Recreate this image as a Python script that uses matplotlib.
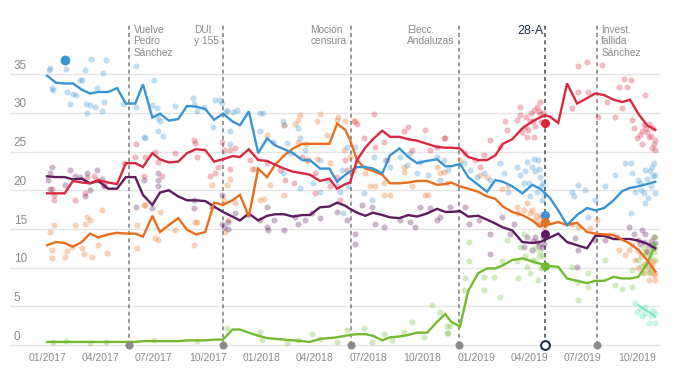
import matplotlib
matplotlib.use("Agg")
import matplotlib.pyplot as plt
import matplotlib.transforms as mtransforms
import pandas as pd

plt.rcParams["font.family"] = ["Liberation Sans", "DejaVu Sans"]

# fortnightly polling average
line_dates = [
    "2017-01-01", "2017-01-16", "2017-01-31", "2017-02-14", "2017-03-01", "2017-03-15",
    "2017-03-29", "2017-04-15", "2017-04-30", "2017-05-15", "2017-05-31", "2017-06-13",
    "2017-06-29", "2017-07-12", "2017-07-27", "2017-08-12", "2017-08-27", "2017-09-11",
    "2017-09-27", "2017-10-12", "2017-10-27", "2017-11-12", "2017-11-25", "2017-12-10",
    "2017-12-26", "2018-01-10", "2018-01-24", "2018-02-08", "2018-02-23", "2018-03-11",
    "2018-03-24", "2018-04-10", "2018-04-26", "2018-05-09", "2018-05-23", "2018-05-31",
    "2018-06-12", "2018-06-26", "2018-07-09", "2018-07-25", "2018-08-07", "2018-08-23",
    "2018-09-07", "2018-09-22", "2018-10-09", "2018-10-26", "2018-11-09", "2018-11-19",
    "2018-12-04", "2018-12-18", "2019-01-04", "2019-01-19", "2019-02-02", "2019-02-15",
    "2019-03-03", "2019-03-20", "2019-04-06", "2019-04-19", "2019-04-28", "2019-05-06",
    "2019-05-20", "2019-06-04", "2019-06-21", "2019-07-08", "2019-07-22", "2019-08-06",
    "2019-08-22", "2019-09-06", "2019-09-19", "2019-10-03", "2019-10-18", "2019-11-01",
]
pp = [34.8, 33.9, 33.8, 33.8, 33.0, 32.5, 32.7, 32.7, 33.2, 31.2,
      31.2, 33.7, 29.4, 29.9, 29.0, 29.2, 30.9, 30.8, 30.5, 29.1,
      29.9, 28.9, 28.4, 30.2, 24.8, 26.7, 25.8, 25.3, 24.8, 23.9,
      23.9, 22.8, 22.8, 21.1, 22.0, 22.4, 23.0, 23.0, 22.8, 22.2,
      24.5, 25.4, 24.3, 23.5, 23.8, 24.0, 23.1, 23.1, 23.4, 21.7,
      20.7, 19.8, 21.3, 21.1, 20.5, 19.6, 20.7, 20.2, 19.6, 19.0,
      17.4, 15.5, 16.8, 17.7, 17.4, 17.7, 18.7, 19.9, 20.3, 20.5, 20.8, 21.1]
psoe = [19.6, 19.6, 19.6, 21.2, 21.0, 20.9, 21.3, 21.0, 20.8, 23.5,
        23.5, 23.0, 24.8, 24.0, 23.6, 23.7, 24.8, 25.3, 25.2, 23.7,
        24.0, 24.4, 24.3, 25.3, 23.9, 23.8, 23.3, 22.8, 22.4, 22.2,
        22.0, 21.2, 21.5, 20.2, 20.8, 21.0, 23.9, 25.5, 26.6, 27.7,
        26.9, 26.9, 26.6, 26.4, 26.0, 25.6, 25.5, 25.5, 25.4, 24.3,
        23.9, 23.9, 24.5, 26.0, 26.6, 28.0, 28.9, 29.4, 29.7, 29.5,
        28.7, 33.8, 31.2, 31.9, 32.5, 32.3, 31.7, 31.4, 31.7, 29.9, 28.4, 27.8]
cs = [12.9, 13.3, 13.2, 12.7, 13.3, 14.4, 13.9, 14.3, 14.5, 14.4,
      14.4, 14.0, 16.7, 14.6, 15.5, 16.4, 14.9, 14.3, 14.6, 18.4,
      18.1, 18.7, 19.4, 16.6, 22.8, 21.7, 23.3, 24.5, 25.4, 26.0,
      26.0, 26.0, 26.0, 28.6, 27.8, 26.5, 23.9, 22.8, 22.5, 22.0,
      20.9, 20.9, 21.0, 21.2, 21.2, 20.7, 20.8, 21.0, 20.5, 20.2,
      19.8, 19.2, 18.9, 17.9, 17.2, 16.8, 16.1, 15.3, 15.7, 15.6,
      15.9, 15.5, 15.8, 14.6, 14.4, 14.3, 14.2, 13.6, 13.1, 12.3, 11.0, 9.5]
up = [21.8, 21.7, 21.7, 21.4, 21.5, 20.9, 21.2, 20.2, 20.2, 21.7,
      21.7, 19.4, 18.1, 19.7, 20.0, 19.2, 18.7, 18.7, 18.6, 17.9,
      17.2, 16.6, 16.1, 17.0, 16.1, 16.7, 16.9, 16.9, 16.6, 16.8,
      16.8, 17.8, 17.9, 18.4, 18.0, 17.6, 17.1, 16.7, 17.1, 16.8,
      16.5, 16.4, 16.8, 16.6, 17.0, 17.6, 17.2, 17.2, 17.3, 16.6,
      16.7, 16.2, 15.7, 15.2, 14.8, 13.3, 13.2, 13.3, 13.6, 13.9,
      14.4, 13.3, 12.9, 12.5, 14.1, 14.1, 13.7, 13.7, 13.7, 13.5, 13.1, 12.5]
vox = [0.4, 0.4, 0.4, 0.4, 0.4, 0.4, 0.4, 0.4, 0.4, 0.4,
       0.4, 0.5, 0.5, 0.5, 0.5, 0.5, 0.6, 0.6, 0.6, 0.7,
       0.7, 2.0, 2.0, 1.6, 1.2, 0.9, 0.8, 0.7, 0.6, 0.5,
       0.4, 0.8, 0.9, 1.0, 1.2, 1.3, 1.4, 1.4, 1.2, 0.6,
       1.0, 1.1, 1.3, 1.6, 1.6, 3.0, 4.0, 3.0, 2.4, 7.0,
       9.3, 9.9, 9.9, 10.3, 11.0, 11.2, 10.8, 10.5, 10.3, 10.2,
       10.1, 8.6, 8.3, 8.0, 8.3, 8.3, 8.8, 8.6, 8.6, 8.8, 10.5, 13.0]
mp_dates = ["2019-10-03", "2019-10-13", "2019-10-23", "2019-11-01"]
mp = [5.2, 4.6, 4.2, 3.6]

# individual polls: (days since 2017-01-01, %)
pp_polls = [(4, 35.6), (5, 35.8), (9, 33.2), (10, 33.0), (32, 35.7), (34, 32.7), (39, 31.1), (44, 32.5),
            (49, 32.3), (56, 34.2), (60, 34.3), (65, 35.6), (66, 31.2), (68, 30.0), (73, 31.0), (75, 37.0),
            (82, 30.8), (85, 33.2), (94, 30.2), (95, 35.2), (96, 31.4), (100, 36.8), (129, 31.2), (151, 36.0),
            (151, 30.8), (165, 26.9), (178, 31.0), (182, 34.2), (187, 30.6), (189, 27.6), (189, 29.3),
            (192, 28.9), (197, 27.0), (167, 26.7), (218, 30.9), (248, 31.9), (249, 31.1), (255, 30.3),
            (267, 30.7), (282, 28.2), (286, 31.6), (294, 31.7), (297, 31.3), (304, 30.1), (306, 30.4),
            (311, 27.6), (311, 26.0), (316, 30.1), (323, 30.4), (362, 30.0), (367, 30.0), (362, 27.7),
            (384, 26.3), (401, 28.9), (402, 28.4), (427, 28.0), (430, 26.7), (408, 26.1), (401, 22.2),
            (413, 24.8), (439, 25.2), (464, 23.9), (464, 19.8), (476, 21.3), (430, 20.3), (493, 20.5),
            (501, 22.6), (498, 19.8), (452, 20.9), (510, 25.6), (524, 25.6), (527, 23.9), (512, 20.5),
            (503, 17.1), (538, 19.6), (552, 18.7), (555, 24.3), (575, 23.9), (583, 23.0), (612, 23.3),
            (617, 24.8), (634, 23.7), (648, 22.0), (663, 24.3), (668, 21.3), (600, 24.3), (629, 22.2),
            (674, 23.9), (682, 22.6), (708, 23.5), (719, 22.6), (731, 21.7), (742, 22.2), (753, 21.3),
            (770, 23.5), (776, 22.2), (784, 19.8), (799, 23.0), (804, 22.0), (816, 23.7), (827, 24.1),
            (835, 23.9), (838, 21.7), (833, 19.8), (841, 18.7), (821, 19.2), (810, 20.9), (892, 19.8),
            (903, 20.7), (895, 19.2), (915, 20.0), (932, 18.7), (920, 16.6), (949, 20.5), (966, 22.0),
            (983, 23.5), (992, 23.5), (994, 22.2), (1005, 21.3), (1017, 22.6), (1028, 23.0), (1034, 22.0),
            (1026, 20.5), (1017, 18.3), (1034, 19.6), (992, 17.0), (1000, 19.8), (1014, 19.6),
            (812, 22.5), (820, 21.0), (825, 23.0), (830, 22.5), (836, 22.8), (840, 20.5), (843, 21.0),
            (845, 19.5), (1008, 21.0), (1020, 21.5), (1025, 22.5), (1030, 21.8), (1032, 23.5),
            (1022, 19.0), (1010, 20.0)]
psoe_polls = [(8, 20.2), (11, 19.4), (11, 18.7), (48, 18.7), (65, 19.6), (68, 21.7), (79, 21.9), (85, 21.3),
              (96, 20.7), (130, 23.5), (151, 26.0), (150, 24.3), (164, 21.9), (167, 24.3), (184, 25.0),
              (189, 23.7), (195, 21.9), (218, 24.8), (249, 26.5), (252, 26.1), (255, 24.3), (277, 21.9),
              (286, 22.2), (297, 26.3), (300, 25.2), (311, 25.2), (320, 25.4), (311, 22.8), (291, 23.0),
              (345, 23.9), (351, 22.8), (374, 23.5), (396, 22.6), (405, 21.3), (433, 24.3), (444, 23.9),
              (456, 19.6), (456, 22.2), (481, 20.5), (493, 21.7), (498, 18.7), (419, 20.9), (521, 28.9),
              (527, 28.6), (555, 29.9), (538, 26.7), (558, 25.6), (572, 26.3), (606, 27.6), (614, 28.2),
              (620, 25.2), (643, 27.8), (651, 25.2), (663, 25.6), (674, 26.7), (578, 23.9), (510, 22.6),
              (507, 23.9), (677, 26.7), (711, 24.8), (728, 23.9), (742, 24.5), (753, 26.5), (770, 25.6),
              (779, 28.9), (782, 27.8), (799, 29.1), (804, 29.7), (813, 28.2), (821, 28.9), (827, 30.4),
              (833, 30.8), (838, 31.4), (838, 29.9), (816, 26.9), (827, 26.9), (804, 30.8), (736, 23.0),
              (903, 36.0), (918, 36.6), (943, 36.2), (892, 30.6), (903, 32.7), (920, 32.7), (952, 31.4),
              (937, 29.5), (966, 29.5), (972, 33.4), (980, 34.4), (992, 34.2), (986, 33.4), (1017, 32.3),
              (977, 30.6), (994, 29.1), (997, 28.0), (1011, 27.6), (1003, 26.7), (1023, 26.9), (1034, 26.5),
              (1034, 25.2), (1023, 28.6), (1014, 28.4), (808, 27.5), (815, 29.5), (822, 30.0), (826, 29.0),
              (830, 28.3), (836, 30.2), (840, 28.8), (843, 30.0), (818, 27.8), (1008, 27.2), (1012, 26.0),
              (1020, 27.5), (1026, 27.0), (1030, 28.0), (1032, 26.0), (1029, 25.5), (1018, 28.0)]
cs_polls = [(5, 14.6), (11, 15.5), (8, 12.3), (8, 11.2), (31, 11.4), (34, 12.1), (48, 15.5), (42, 12.7),
            (65, 15.7), (68, 16.6), (73, 16.2), (76, 11.4), (59, 12.5), (62, 11.8), (93, 17.4), (87, 12.9),
            (102, 11.9), (153, 15.5), (153, 12.5), (164, 18.1), (167, 18.1), (184, 13.8), (189, 13.6),
            (192, 17.2), (218, 14.9), (252, 15.9), (255, 15.9), (249, 12.9), (280, 20.7), (306, 20.7),
            (311, 21.5), (300, 18.7), (308, 16.1), (303, 14.6), (320, 18.3), (348, 22.8), (362, 18.7),
            (368, 18.9), (374, 27.1), (379, 20.7), (402, 28.4), (422, 28.6), (427, 29.1), (430, 29.7),
            (464, 29.9), (459, 28.9), (495, 29.5), (493, 29.1), (402, 19.4), (427, 26.3), (441, 23.9),
            (459, 24.1), (481, 23.5), (476, 27.1), (441, 26.0), (504, 25.2), (507, 28.9), (524, 28.9),
            (515, 24.3), (521, 22.6), (541, 22.2), (549, 20.5), (558, 20.5), (572, 20.9), (572, 19.4),
            (606, 23.0), (606, 22.4), (620, 20.5), (643, 19.4), (648, 19.4), (663, 23.0), (668, 22.2),
            (583, 19.4), (674, 22.4), (680, 20.9), (702, 23.9), (736, 22.0), (748, 21.7), (773, 20.2),
            (784, 20.5), (799, 17.9), (801, 17.0), (816, 18.3), (821, 17.0), (830, 16.1), (835, 15.7),
            (838, 16.4), (844, 15.3), (810, 17.4), (892, 15.7), (903, 15.3), (923, 15.1), (935, 16.1),
            (955, 14.2), (972, 12.3), (983, 11.6), (989, 12.3), (1000, 11.0), (1005, 9.9), (1014, 9.3),
            (1023, 11.0), (1028, 10.3), (1034, 9.3), (1034, 8.4), (1023, 8.4), (1005, 12.1), (994, 12.9),
            (825, 17.5), (832, 16.8), (840, 16.8), (842, 15.8), (1010, 11.5), (1020, 10.0), (1025, 9.5),
            (1030, 10.8), (1032, 9.0), (1015, 10.5), (1018, 12.0)]
up_polls = [(8, 23.0), (5, 22.2), (2, 21.3), (5, 20.2), (31, 20.7), (39, 22.6), (48, 21.9), (56, 21.7),
            (68, 22.2), (65, 19.2), (73, 20.0), (93, 21.5), (96, 20.5), (85, 22.6), (151, 17.9), (164, 21.3),
            (189, 21.3), (189, 20.5), (178, 17.7), (189, 22.2), (249, 17.7), (249, 18.7), (280, 17.9),
            (297, 15.7), (300, 15.3), (308, 15.9), (308, 15.0), (320, 17.0), (297, 19.4), (342, 16.8),
            (374, 17.9), (374, 15.3), (376, 14.9), (362, 16.1), (402, 14.9), (422, 16.6), (427, 15.7),
            (439, 16.1), (450, 17.0), (464, 16.4), (493, 17.2), (385, 16.1), (510, 16.1), (524, 14.4),
            (524, 13.1), (535, 18.1), (552, 17.9), (558, 15.7), (572, 15.3), (600, 16.1), (617, 15.9),
            (626, 15.3), (634, 17.9), (651, 17.7), (663, 16.1), (668, 16.6), (685, 17.9), (711, 17.9),
            (717, 15.7), (734, 16.1), (753, 14.4), (773, 16.6), (793, 15.7), (810, 12.7), (816, 14.0),
            (824, 12.3), (833, 13.3), (841, 12.7), (753, 11.8), (787, 14.4), (898, 13.8), (903, 12.3),
            (932, 13.6), (949, 13.6), (969, 14.0), (989, 15.3), (997, 14.4), (1005, 13.6), (1017, 14.4),
            (1023, 12.9), (1031, 14.0), (901, 10.1), (826, 13.5), (830, 14.0), (836, 12.8), (843, 14.0),
            (845, 13.0), (1008, 13.0), (1015, 13.3), (1020, 12.2), (1026, 13.5), (1030, 12.5),
            (1034, 13.2), (1012, 14.8)]
vox_polls = [(10, 0.4), (32, 0.5), (73, 0.3), (100, 0.4), (182, 0.6), (255, 0.5), (306, 2.2), (362, 1.7),
             (365, 0.6), (408, 0.3), (427, 0.6), (450, 1.4), (464, 0.8), (493, 0.4), (510, 1.9), (538, 2.2),
             (552, 0.4), (572, 1.4), (586, 0.6), (606, 1.7), (620, 3.0), (640, 1.1), (654, 5.2), (668, 4.3),
             (680, 2.4), (680, 1.5), (711, 8.6), (708, 7.1), (717, 13.3), (717, 10.9), (742, 7.1), (759, 8.8),
             (770, 6.2), (773, 10.9), (782, 13.6), (799, 10.9), (801, 8.6), (804, 12.7), (816, 10.1),
             (821, 9.3), (830, 10.9), (835, 8.4), (838, 12.1), (810, 14.4), (742, 8.8), (685, 2.4), (682, 1.5),
             (901, 8.2), (903, 5.8), (920, 7.5), (949, 11.0), (966, 7.8), (977, 7.3), (994, 9.7), (994, 7.5),
             (1005, 11.0), (1017, 11.8), (1028, 12.7), (1034, 14.0), (1034, 11.0), (1023, 9.3), (1011, 9.3),
             (892, 10.1), (920, 9.3), (812, 11.5), (825, 11.0), (830, 12.5), (836, 11.5), (840, 10.0),
             (843, 11.5), (1010, 10.2), (1020, 10.5), (1025, 11.5), (1030, 13.0), (1032, 12.0),
             (1026, 9.8), (1034, 12.5), (1015, 12.5)]
mp_polls = [(1000, 5.4), (1008, 4.7), (1017, 4.1), (1026, 3.7), (1034, 2.8), (1023, 2.8), (1011, 3.7),
            (1028, 4.5), (1034, 4.1), (1003, 4.3), (1017, 4.9)]

# results of 28-A election
result_date = "2019-04-28"
results = {"pp": 16.8, "psoe": 28.7, "cs": 15.9, "up": 14.4, "vox": 10.2}
early_dot = ("2017-02-01", 36.8)

event_dates = ["2017-05-21", "2017-10-27", "2018-06-01", "2018-12-02", "2019-04-28", "2019-07-25"]
event_labels = ["Vuelve\nPedro\nSánchez", "DUI\ny 155", "Moción\ncensura",
                "Elecc.\nAndaluzas", "28-A", "Invest.\nfallida\nSánchez"]
event_side = ["right", "left", "left", "left", "left", "right"]

colors = {"pp": "#3a93d3", "psoe": "#d8283f", "cs": "#ea6d1e",
          "up": "#5e1b5f", "vox": "#72bb30", "mp": "#55e0ad"}

START = pd.Timestamp("2017-01-01")


def poll_xy(polls):
    return ([START + pd.Timedelta(days=d) for d, _ in polls], [v for _, v in polls])


fig = plt.figure(figsize=(6.8, 3.82), dpi=100)
fig.patch.set_facecolor("white")
ax = fig.add_axes([10 / 680, 30 / 382, 650 / 680, 332 / 382])
ax.set_xlim(pd.Timestamp("2016-10-30"), pd.Timestamp("2019-11-09"))
ax.set_ylim(-0.9, 42.0)
for s in ax.spines.values():
    s.set_visible(False)

# grid + y labels sitting on top of the lines
trans = mtransforms.blended_transform_factory(ax.transAxes, ax.transData)
for v in range(0, 40, 5):
    ax.axhline(v, color="#e5e5e5", lw=1, zorder=0)
    ax.text(0.006, v + 0.7, str(v), transform=trans, fontsize=8.5,
            color="#8a8a8a", va="baseline", ha="left")
ax.set_yticks([])

ticks = pd.date_range("2017-01-01", "2019-10-01", freq="QS")
ax.set_xticks(ticks)
ax.set_xticklabels([t.strftime("%m/%Y") for t in ticks], fontsize=7.5, color="#8a8a8a")
ax.tick_params(axis="x", length=0, pad=1)

# poll dots
for key, polls in [("pp", pp_polls), ("psoe", psoe_polls), ("cs", cs_polls),
                   ("up", up_polls), ("vox", vox_polls), ("mp", mp_polls)]:
    d, v = poll_xy(polls)
    ax.scatter(d, v, s=19, color=colors[key], alpha=0.32, lw=0, zorder=2)

# averages
ld = pd.to_datetime(line_dates)
for key, vals in [("vox", vox), ("up", up), ("cs", cs), ("pp", pp), ("psoe", psoe)]:
    ax.plot(ld, vals, color=colors[key], lw=1.7, zorder=3, solid_joinstyle="miter")
ax.plot(pd.to_datetime(mp_dates), mp, color=colors["mp"], lw=1.2, alpha=0.8, zorder=3)

# election results and early point
rd = pd.Timestamp(result_date)
for key, val in results.items():
    ax.scatter([rd], [val], s=42, color=colors[key], lw=0, zorder=4)
ax.scatter([pd.Timestamp(early_dot[0])], [early_dot[1]], s=50, color=colors["pp"], lw=0, zorder=4)

# events
top = 41.4
for date, lab, side in zip(event_dates, event_labels, event_side):
    dt = pd.Timestamp(date)
    main = lab == "28-A"
    lc = "#3d4a5a" if main else "#7a7a7a"
    ax.plot([dt, dt], [0, top], color=lc, lw=1.1, ls=(0, (2.6, 2.2)), zorder=1)
    if main:
        ax.scatter([dt], [0], s=40, facecolor="white", edgecolor="#1e2f44",
                   lw=1.5, zorder=5, clip_on=False)
        ax.annotate(lab, (dt, top), xytext=(-1.5, 0), textcoords="offset points",
                    ha="right", va="top", fontsize=9, color="#1e2f44")
    else:
        ax.scatter([dt], [0], s=34, color="#8a8a8a", lw=0, zorder=5, clip_on=False)
        dx = 3 if side == "right" else -3
        ax.annotate(lab, (dt, top), xytext=(dx, 0), textcoords="offset points",
                    ha="left" if side == "right" else "right", va="top",
                    multialignment="left", fontsize=7.3, color="#8a8a8a",
                    linespacing=1.2)

fig.savefig("out.png", dpi=100, facecolor="white")
